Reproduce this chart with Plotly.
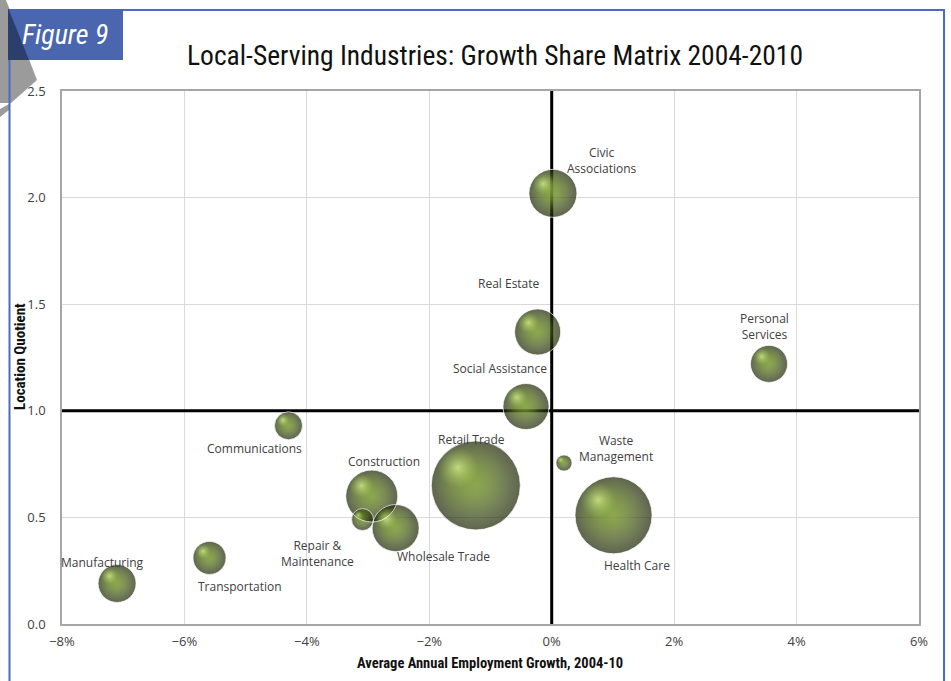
import numpy as np
import plotly.graph_objects as go

# Industry data: employment growth 2004-10, location quotient, employment (bubble size)
names = ["Manufacturing", "Transportation", "Communications", "Repair & Maintenance",
         "Construction", "Wholesale Trade", "Retail Trade", "Social Assistance",
         "Real Estate", "Civic Associations", "Waste Management", "Health Care",
         "Personal Services"]
labels = ["Manufacturing", "Transportation", "Communications", "Repair &<br>Maintenance",
          "Construction", "Wholesale Trade", "Retail Trade", "Social Assistance",
          "Real Estate", "Civic<br>Associations", "Waste<br>Management", "Health Care",
          "Personal<br>Services"]
growth = [-0.0710, -0.0559, -0.0430, -0.0309, -0.0294, -0.0255, -0.0124, -0.0042,
          -0.0023, 0.0002, 0.0020, 0.0101, 0.0355]
lq = [0.19, 0.31, 0.93, 0.49, 0.60, 0.45, 0.65, 1.02, 1.37, 2.02, 0.755, 0.51, 1.22]
jobs = [1440, 1090, 780, 480, 2700, 2210, 7920, 2120, 2120, 2300, 260, 5930, 1370]

x_ticks = [-0.08, -0.06, -0.04, -0.02, 0.0, 0.02, 0.04, 0.06]
y_ticks = [0.0, 0.5, 1.0, 1.5, 2.0, 2.5]

# quadrant dividers: zero growth and a location quotient of 1
growth_split = 0.0
lq_split = 1.0

# label offsets (px) relative to each bubble centre
label_shift = {
    "Manufacturing": (-15, 21), "Transportation": (30, -29), "Communications": (-34, -23),
    "Repair & Maintenance": (-45, -34), "Construction": (12, 35), "Wholesale Trade": (48, -28),
    "Retail Trade": (-4, 46), "Social Assistance": (-26, 38), "Real Estate": (-29, 48),
    "Civic Associations": (49, 33), "Waste Management": (52, 15), "Health Care": (23, -50),
    "Personal Services": (-5, 37),
}

W, H = 951, 681
ML, MR, MT, MB = 62, 32, 91, 57
PW, PH = W - ML - MR, H - MT - MB
XR, YR = (-0.08, 0.06), (0.0, 2.5)
px_per_x = PW / (XR[1] - XR[0])
px_per_y = PH / (YR[1] - YR[0])


def paper(xp, yp):
    """pixel position on the page -> paper coordinates"""
    return (xp - ML) / PW, (H - MB - yp) / PH


def poly(points):
    pts = [paper(a, b) for a, b in points]
    return "M " + " L ".join(f"{a:.5f},{b:.5f}" for a, b in pts) + " Z"


gx = np.array(growth)
gy = np.array(lq)
diam = np.sqrt(np.array(jobs)) * (89 / np.sqrt(max(jobs)))

fig = go.Figure()

# quadrant lines sit above the grid but under the bubbles
quad = dict(mode="lines", hoverinfo="skip", showlegend=False,
            line=dict(color="#000000", width=3))
fig.add_trace(go.Scatter(x=[growth_split, growth_split], y=list(YR), **quad))
fig.add_trace(go.Scatter(x=list(XR), y=[lq_split, lq_split], **quad))


def sphere_layer(scale, off, edge, centre):
    dx = -off * diam / px_per_x
    dy = off * diam / px_per_y
    fig.add_trace(go.Scatter(
        x=gx + dx, y=gy + dy, mode="markers", hoverinfo="skip", showlegend=False,
        marker=dict(size=diam * scale, color=edge, line=dict(width=0),
                    gradient=dict(type="radial", color=centre)),
    ))


# shaded spheres: dark body, brighter upper-left body, specular highlight
sphere_layer(1.0, 0.0, "#1a2304", "#6d8d2b")
sphere_layer(0.84, 0.07, "rgba(110,140,42,0)", "#86a63c")
sphere_layer(0.46, 0.2, "rgba(170,205,90,0)", "rgba(224,250,150,1)")

fig.add_trace(go.Scatter(x=gx, y=gy, mode="markers", text=names, showlegend=False,
                         marker=dict(size=diam, color="rgba(0,0,0,0)"),
                         hovertemplate="%{text}<br>%{x:.1%}, %{y:.2f}<extra></extra>"))

annotations = []
for nm, lb, x, y in zip(names, labels, growth, lq):
    sx, sy = label_shift[nm]
    annotations.append(dict(x=x, y=y, xref="x", yref="y", text=lb, showarrow=False,
                            xshift=sx, yshift=sy, align="center",
                            xanchor="center", yanchor="middle",
                            font=dict(family="Open Sans", size=12, color="#404040")))

narrow = "Liberation Sans Narrow, Roboto Condensed, Roboto, sans-serif"


def page_text(xp, yp, text, size, color="#111111", angle=0):
    px_, py_ = paper(xp, yp)
    annotations.append(dict(x=px_, y=py_, xref="paper", yref="paper", showarrow=False,
                            xanchor="center", yanchor="middle", textangle=angle,
                            text=text, font=dict(family=narrow, size=size, color=color)))


page_text(495, 55, "Local-Serving Industries: Growth Share Matrix 2004-2010", 27.5)
page_text(490, 663, "<b>Average Annual Employment Growth, 2004-10</b>", 14.5)
page_text(20, 357, "<b>Location Quotient</b>", 15, angle=-90)
page_text(65, 35, "<i>Figure 9</i>", 28, color="#ffffff")

shapes = [
    # decorative grey ribbon at the page edge
    dict(type="path", xref="paper", yref="paper", layer="above", line=dict(width=0),
         fillcolor="#9b9b9b", path=poly([(0, 0), (6, 0), (37, 80), (11, 103), (0, 103)])),
    dict(type="path", xref="paper", yref="paper", layer="above", line=dict(width=0),
         fillcolor="#9b9b9b", path=poly([(0, 109), (9, 104), (9, 110), (0, 117)])),
    # page frame
    dict(type="path", xref="paper", yref="paper", layer="above",
         line=dict(color="#4a6cc0", width=2), fillcolor="rgba(0,0,0,0)",
         path="M " + " L ".join(f"{a:.5f},{b:.5f}" for a, b in
                                [paper(9.5, 700), paper(9.5, 10), paper(944, 10), paper(944, 700)])),
    # figure tag
    dict(type="path", xref="paper", yref="paper", layer="above", line=dict(width=0),
         fillcolor="#4a66ae", path=poly([(8, 9), (123, 9), (123, 60), (8, 60)])),
    dict(type="path", xref="paper", yref="paper", layer="above", line=dict(width=0),
         fillcolor="#2c3e6c", path=poly([(8, 9), (8.5, 9), (29, 60), (8, 60)])),
]

fig.update_layout(
    width=W, height=H, autosize=False,
    margin=dict(l=ML, r=MR, t=MT, b=MB),
    paper_bgcolor="#ffffff", plot_bgcolor="#ffffff",
    annotations=annotations, shapes=shapes, showlegend=False,
    xaxis=dict(range=list(XR), tickvals=x_ticks, tickformat=".0%", showgrid=True,
               gridcolor="#d9d9d9", gridwidth=1, zeroline=False, showline=True,
               linecolor="#a6a6a6", linewidth=1.5, mirror=True, ticks="",
               ticklabelstandoff=5,
               tickfont=dict(family="Open Sans", size=13, color="#404040")),
    yaxis=dict(range=list(YR), tickvals=y_ticks, tickformat=".1f", showgrid=True,
               gridcolor="#d9d9d9", gridwidth=1, zeroline=False, showline=True,
               linecolor="#a6a6a6", linewidth=1.5, mirror=True, ticks="",
               ticklabelstandoff=12,
               tickfont=dict(family="Open Sans", size=13, color="#404040")),
)

fig.write_html("out.html")
